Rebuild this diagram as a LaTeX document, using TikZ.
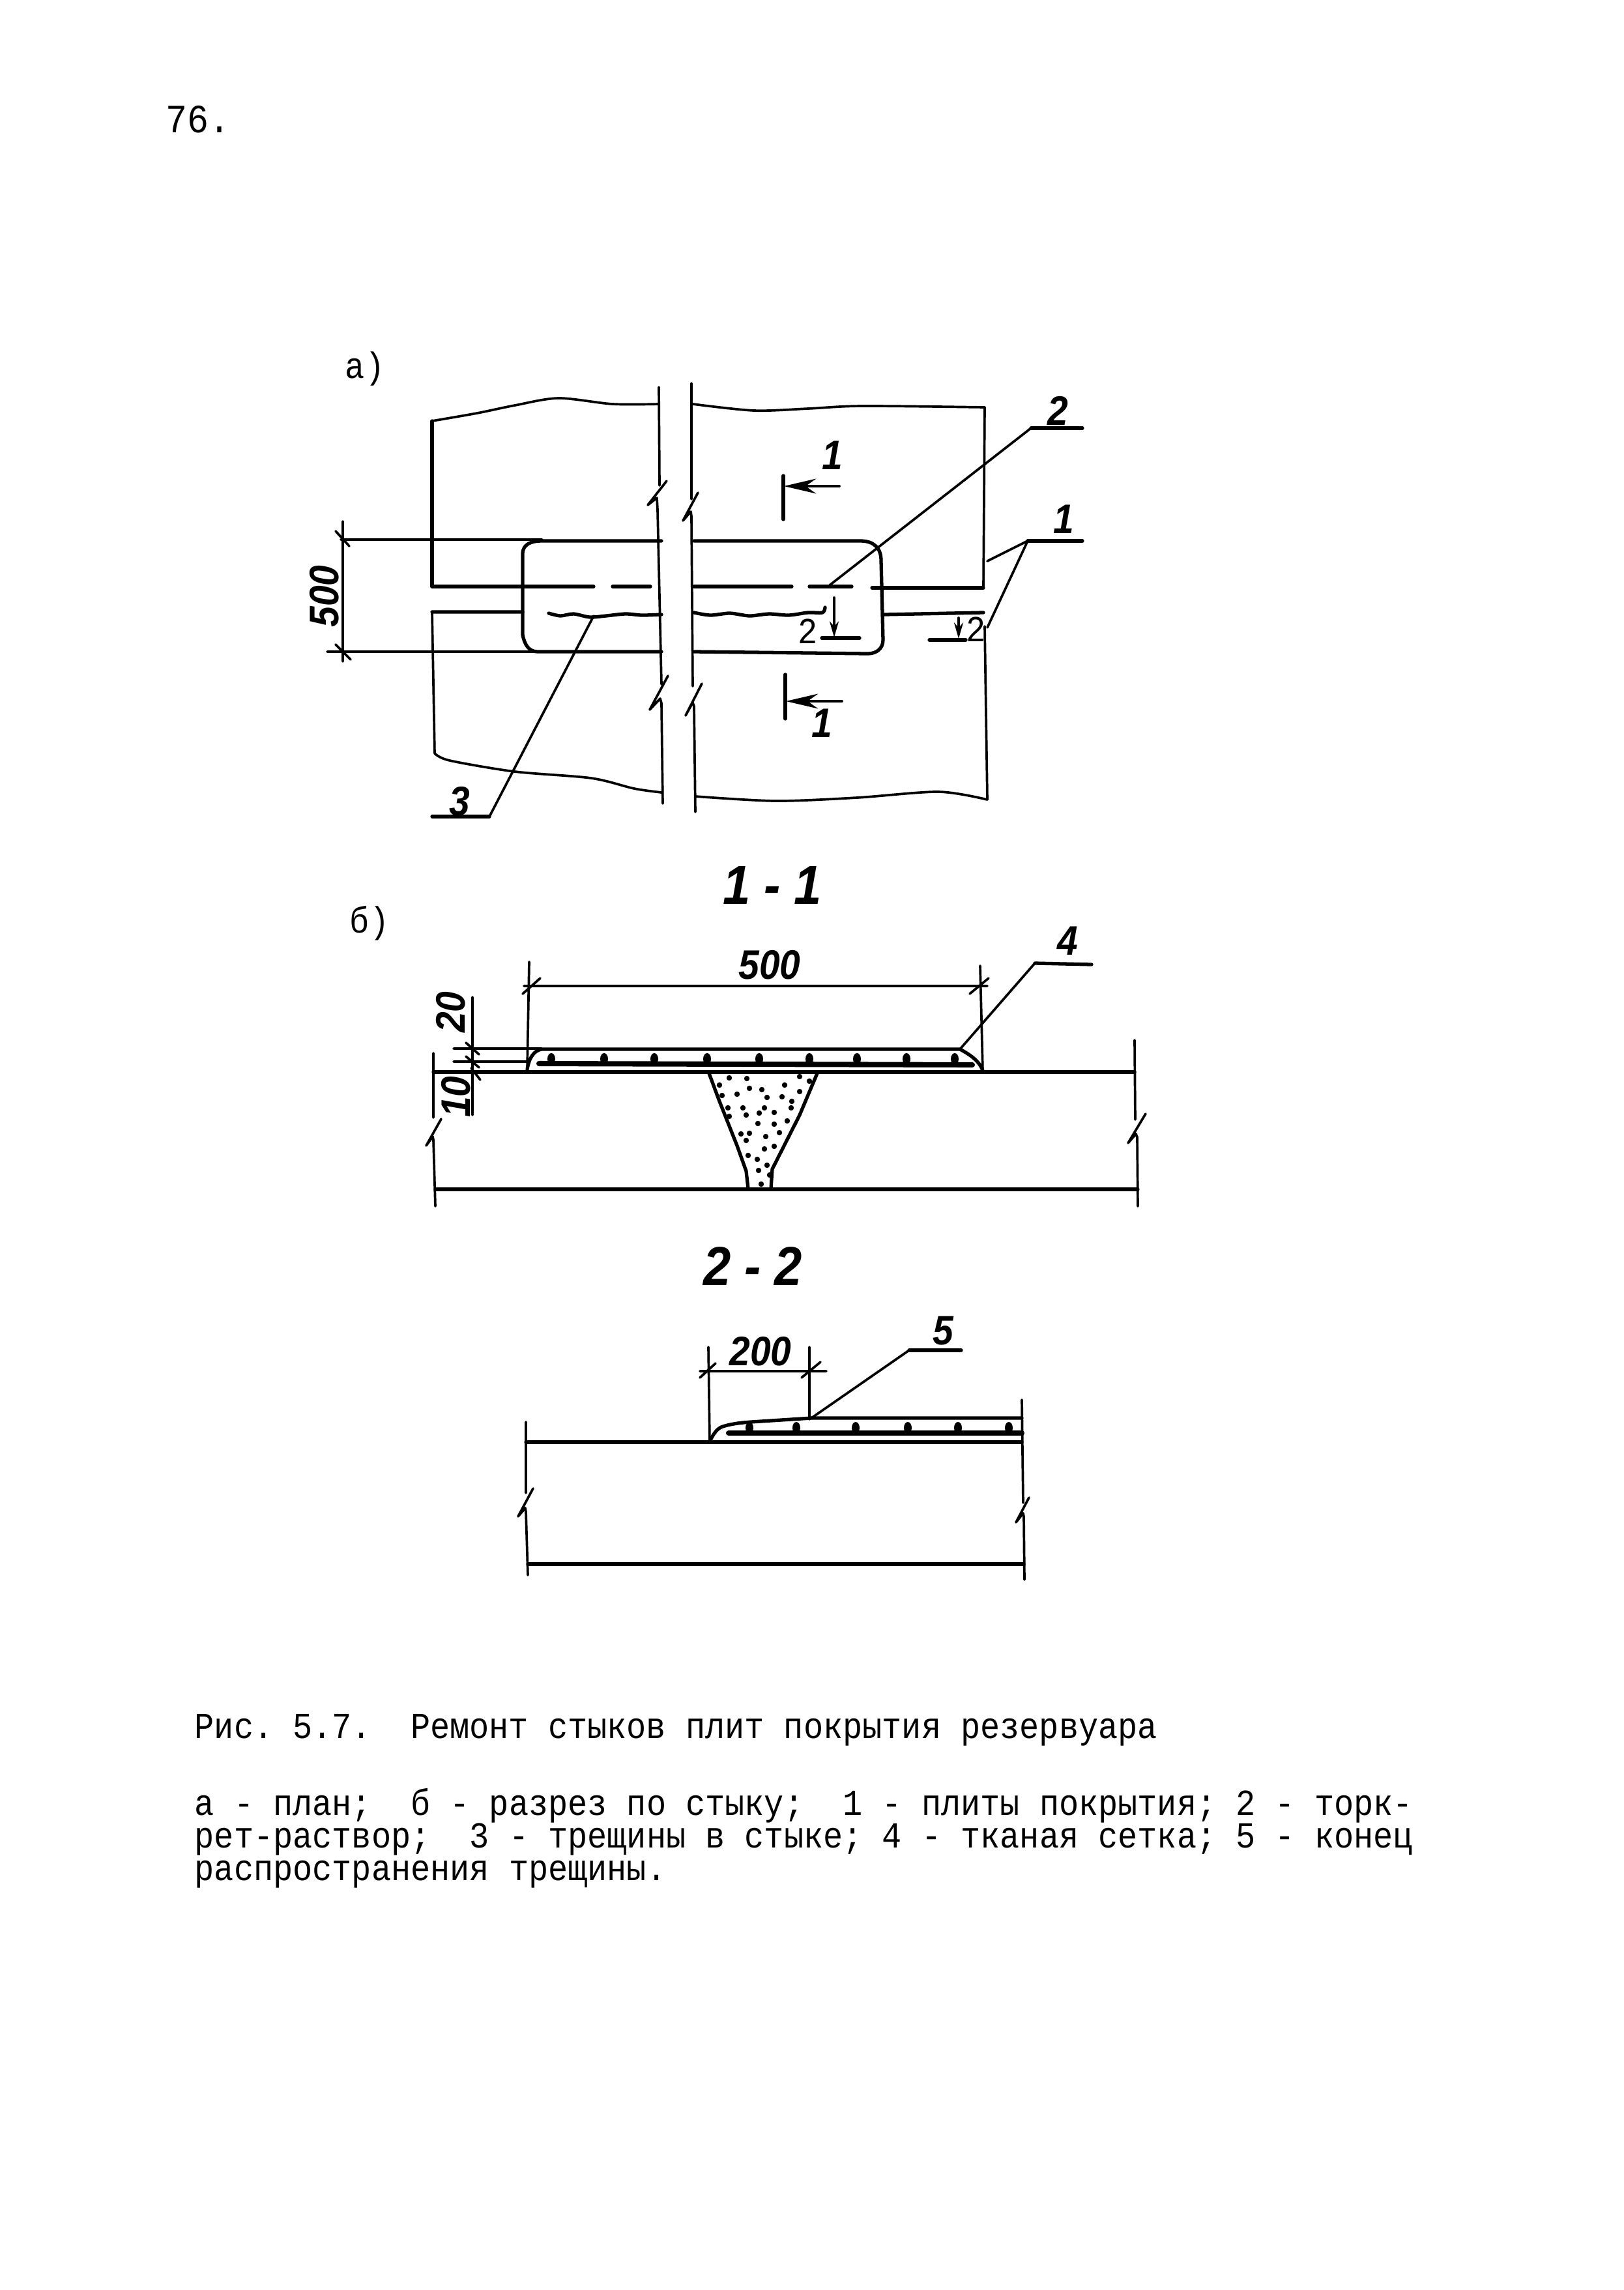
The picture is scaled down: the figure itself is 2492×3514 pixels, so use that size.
\documentclass[tikz,border=0pt]{standalone}
\usepackage{fontspec}
\setmainfont{Liberation Serif}
\newfontfamily\typefont[FakeStretch=0.893]{Liberation Mono}
\newfontfamily\handfont[FakeStretch=0.9]{Liberation Sans}
\usetikzlibrary{arrows.meta}
\tikzset{
	thinline/.style={line width=1.05pt},
	thickline/.style={line width=1.5pt},
	meshline/.style={line width=2.3pt},
	typed/.style={font=\typefont\fontsize{16}{14.2}\selectfont,inner sep=0pt},
	handnum/.style={font=\handfont\bfseries\itshape\fontsize{18}{18}\selectfont,inner sep=0pt},
	handtitle/.style={font=\handfont\bfseries\itshape\fontsize{24}{24}\selectfont,inner sep=0pt},
	sectbig/.style={thinline,-{Stealth[length=14pt,width=6.5pt]}},
	sectsmall/.style={thinline,-{Stealth[length=7pt,width=4pt]}},
}
\begin{document}
\begin{tikzpicture}[line join=round, line cap=round, x=0.01cm, y=-0.01cm]
	\useasboundingbox (0,0) rectangle (2492,3514);
	\fill[white] (0,0) rectangle (2492,3514);
	\node[typed,font=\typefont\fontsize{17.5}{17.5}\selectfont,anchor=base west] (page) at (254,203) {76.};
	% plan
	\node[typed] (lblA) at (560,566) {а)};
	\draw[thinline,smooth] plot coordinates {(663,646) (732,634) (790,622) (857,611) (940,620) (1011,620)};
	\draw[thinline,smooth] plot coordinates {(1063,620) (1157,630) (1240,627) (1323,623) (1511,625)};
	\draw[thinline,smooth] plot coordinates {(667,1156) (690,1167) (790,1184) (907,1194) (973,1210) (1015,1216)};
	\draw[thinline,smooth] plot coordinates {(1067,1222) (1190,1229) (1315,1224) (1440,1215) (1515,1227)};
	\draw[thinline] (1011,594)--(1012,745) (1023,738)--(994,775)--(1008,764)--(1009,782)--(1015,1050)
		(1025,1037)--(997,1089)--(1013,1072)--(1015,1079)--(1017,1233);
	\draw[thinline] (1061,588)--(1061,766) (1071,756)--(1048,799)--(1060,785)--(1061,792)--(1063,1053)
		(1077,1049)--(1052,1098)--(1063,1078)--(1065,1084)--(1067,1246);
	\draw[thinline] (1511,625)--(1509,902) (1511,961)--(1515,1227) (663,939)--(667,1156);
	\draw[thickline] (663,646)--(663,900)--(911,900) (940,900)--(998,900)
		(1065,900)--(1215,900) (1242,900)--(1307,900) (1338,902)--(1509,902);
	\draw[thickline] (802,939)--(663,939) (1357,943)--(1509,940);
	% repair patch
	\draw[thickline] (1015,830)--(832,830) .. controls (815,830) and (802,835) .. (802,850)
		--(802,974) .. controls (805,990) and (812,1000) .. (825,1000)--(1015,1000);
	\draw[thickline] (1065,830)--(1320,830) .. controls (1340,830) and (1352,840) .. (1352,860)
		--(1355,982) .. controls (1355,995) and (1345,1003) .. (1332,1003)--(1065,1000);
	% crack
	\path (911,945) coordinate (crack) (1273,898) coordinate (mix) (1515,861) coordinate (slabA) (1515,963) coordinate (slabB);
	\draw[thickline,smooth] plot coordinates {(842,941) (860,945) (880,942) (905,947) (930,945) (960,942) (985,944) (1015,943)};
	\draw[thickline,smooth] plot coordinates {(1065,940) (1090,944) (1120,941) (1150,945) (1180,942) (1210,944) (1240,940) (1262,940) (1266,932)};
	% dimension 500
	\draw[thinline] (523,828)--(832,828) (502,1000)--(825,1000) (526,800)--(526,1015)
		(515,815)--(536,838) (515,989)--(538,1012);
	\node[handnum,rotate=90] (dimPlan) at (498,915) {500};
	% section marks
	\draw[thickline] (1202,730)--(1202,797) (1205,1035)--(1205,1103);
	\draw[sectbig] (1288,746)--(1203,746);
	\draw[sectbig] (1292,1076)--(1206,1076);
	\node[handnum] (secA) at (1277,699) {1};
	\node[handnum] (secB) at (1261,1110) {1};
	\draw[thickline] (1261,979)--(1319,979) (1426,982)--(1482,982);
	\draw[sectsmall] (1280,917)--(1280,978);
	\draw[sectsmall] (1471,948)--(1471,980);
	\node[typed] (secC) at (1240,969) {2};
	\node[typed] (secD) at (1498,966) {2};
	% leaders of the plan
	\path (1582,657) coordinate (legB) (1661,657) coordinate (legBe)
		(1577,830) coordinate (legA) (1661,830) coordinate (legAe)
		(751,1253) coordinate (legC) (663,1253) coordinate (legCe);
	\draw[thinline] (mix)--(legB);
	\draw[thickline] (legB)--(legBe);
	\draw[thinline] (slabA)--(legA) (slabB)--(legA);
	\draw[thickline] (legA)--(legAe);
	\draw[thinline] (crack)--(legC);
	\draw[thickline] (legC)--(legCe);
	\node[handnum] (numB) at (1623,630) {2};
	\node[handnum] (numA) at (1632,797) {1};
	\node[handnum] (numC) at (705,1230) {3};
	% section 1-1
	\node[typed] (lblB) at (567,1417) {б)};
	\node[handtitle] (titleA) at (1185,1358) {1 - 1};
	\draw[thinline] (665,1616)--(665,1715) (677,1717)--(654,1758)--(664,1744)--(665,1749)--(668,1851);
	\draw[thinline] (1741,1596)--(1742,1718) (1758,1709)--(1731,1754)--(1743,1740)--(1745,1745)--(1746,1851);
	\draw[thickline] (665,1645)--(1741,1645) (668,1825)--(1746,1825);
	\draw[thickline] (1088,1647)--(1104,1690)--(1131,1758)--(1145,1797)--(1148,1824);
	\draw[thickline] (1254,1647)--(1227,1711)--(1185,1794)--(1183,1824);
	\foreach \a/\b in {1119/1654,1146/1655,1227/1652,1104/1665,1242/1659,1150/1670,1169/1672,1204/1665,
		1131/1679,1108/1681,1177/1684,1200/1683,1227/1675,1215/1690,1117/1700,1140/1700,1173/1700,1214/1700,
		1119/1713,1145/1711,1165/1708,1188/1707,1208/1720,1163/1724,1188/1725,1137/1740,1150/1739,1196/1738,
		1175/1744,1145/1750,1188/1759,1173/1763,1148/1773,1162/1779,1177/1788,1164/1796,1181/1803,1168/1817}{
		\fill (\a,\b) circle (1.2pt);
	}
	\path (1473,1610) coordinate (meshA) (1588,1478) coordinate (legD) (1675,1480) coordinate (legDe);
	\draw[thickline] (809,1641) .. controls (812,1622) and (820,1612) .. (831,1610)--(meshA)
		.. controls (1488,1618) and (1503,1628) .. (1508,1643);
	\draw[meshline] (827,1632)--(1492,1634);
	\foreach \t in {846,927,1004,1085,1165,1242,1315,1391,1465}{
		\fill (\t,1625) ellipse (6 and 9);
	}
	\draw[thinline] (meshA)--(legD);
	\draw[thickline] (legD)--(legDe);
	\node[handnum] (numD) at (1638,1444) {4};
	\draw[thinline] (804,1513)--(1515,1513) (812,1476)--(809,1641) (1504,1482)--(1508,1643)
		(802,1525)--(829,1501) (1488,1525)--(1517,1501);
	\node[handnum] (dimTop) at (1181,1481) {500};
	\draw[thinline] (696,1609)--(831,1609) (696,1629)--(810,1629) (725,1530)--(725,1711)
		(715,1600)--(735,1618) (715,1621)--(735,1638) (723,1639)--(737,1657);
	\node[handnum,rotate=90] (dimB) at (692,1553) {20};
	\node[handnum,rotate=90] (dimC) at (700,1683) {10};
	% section 2-2
	\node[handtitle] (titleB) at (1155,1943) {2 - 2};
	\draw[thinline] (807,2182)--(807,2291) (818,2284)--(795,2327)--(806,2314)--(807,2320)--(810,2417);
	\draw[thinline] (1568,2148)--(1570,2306) (1579,2298)--(1559,2336)--(1570,2322)--(1571,2327)--(1572,2424);
	\draw[thickline] (807,2213)--(1568,2213) (810,2400)--(1571,2400);
	\path (1245,2176) coordinate (crackEnd) (1395,2072) coordinate (legE) (1475,2072) coordinate (legEe);
	\draw[thickline] (1089,2212) .. controls (1095,2200) and (1100,2192) .. (1109,2189)
		.. controls (1125,2184) and (1140,2183) .. (1152,2182)--(crackEnd)--(1568,2176);
	\draw[meshline] (1118,2199)--(1568,2199);
	\foreach \t in {1150,1222,1313,1393,1470,1548}{
		\fill (\t,2191) ellipse (6 and 9);
	}
	\draw[thinline] (crackEnd)--(legE);
	\draw[thickline] (legE)--(legEe);
	\node[handnum] (numE) at (1447,2042) {5};
	\draw[thinline] (1074,2104)--(1268,2104) (1087,2067)--(1089,2212) (1242,2067)--(1242,2178)
		(1074,2114)--(1098,2092) (1230,2114)--(1259,2090);
	\node[handnum] (dimD) at (1167,2074) {200};
	% caption
	\node[typed,anchor=base west] (capA) at (298,2667) {Рис. \kern-2.9pt 5.7.~~Ремонт стыков плит покрытия резервуара};
	\node[typed,anchor=base west] (capB) at (298,2785) {а - план;~~б - разрез по стыку;~~1 - плиты покрытия; 2 - торк-};
	\node[typed,anchor=base west] (capC) at (298,2835) {рет-раствор;~~3 - трещины в стыке; 4 - тканая сетка; 5 - конец};
	\node[typed,anchor=base west] (capD) at (298,2885) {распространения трещины.};
\end{tikzpicture}
\end{document}
